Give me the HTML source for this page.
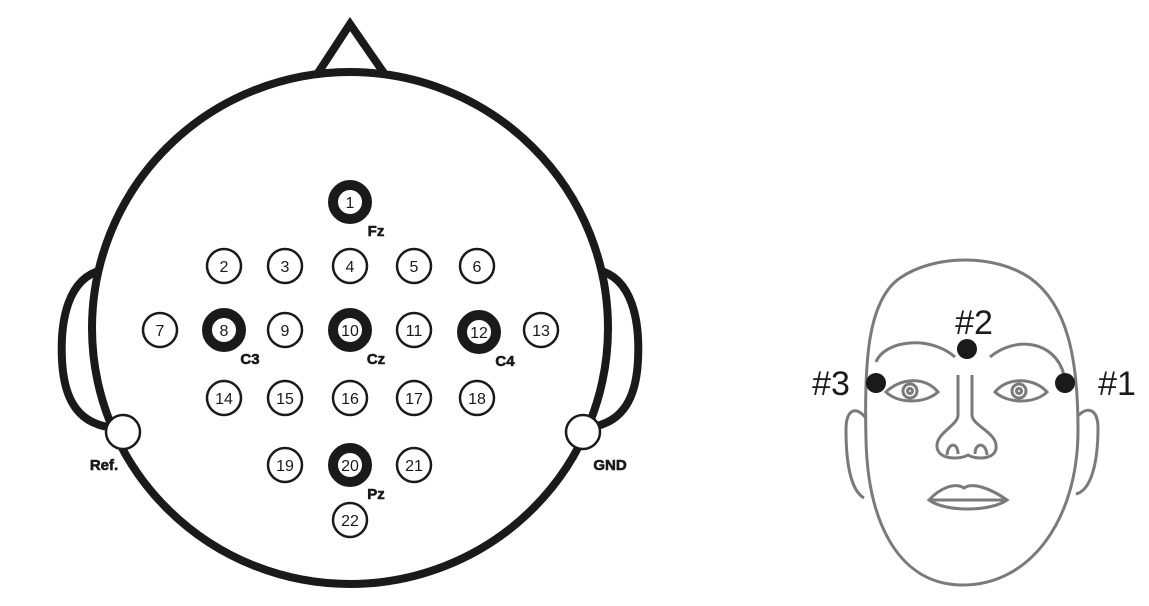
<!DOCTYPE html>
<html><head><meta charset="utf-8"><style>
html,body{margin:0;padding:0;background:#fff;}
svg{display:block;font-family:"Liberation Sans",sans-serif;}
</style></head><body>
<svg id="c" width="1149" height="606" viewBox="0 0 1149 606">
  <g fill="none" stroke="#1a1a1a" stroke-width="8">
    <path d="M316,76 L350,24 L386,76" stroke-linejoin="miter"/>
    <path d="M102,270 C68,278 60,320 62,360 C64,402 80,426 117,428"/>
    <path d="M598,270 C632,278 640,320 638,360 C636,402 620,426 583,428"/>
    <ellipse cx="350" cy="328" rx="258" ry="256" fill="#fff"/>
  </g>
  <g id="elec"></g>
  <g>
    <circle cx="123" cy="432" r="17" fill="#fff" stroke="#1a1a1a" stroke-width="2.5"/>
    <circle cx="583" cy="432" r="17" fill="#fff" stroke="#1a1a1a" stroke-width="2.5"/>
    <text x="104" y="470" font-size="15" font-weight="bold" text-anchor="middle" fill="#1a1a1a" stroke="#1a1a1a" stroke-width="0.6">Ref.</text>
    <text x="610" y="470" font-size="15" font-weight="bold" text-anchor="middle" fill="#1a1a1a" stroke="#1a1a1a" stroke-width="0.6">GND</text>
  </g>
  <g fill="none" stroke="#7a7a7a" stroke-width="3">
    <path d="M866,418 C855,405 846,410 846,430 C846,460 850,490 864,498"/>
    <path d="M1076,418 C1088,404 1098,410 1098,428 C1098,460 1092,490 1076,494"/>
    <path fill="#fff" d="M963,585 C900,585 868,525 866,440 C864,360 868,300 900,278 C935,254 995,254 1030,278 C1068,305 1078,360 1078,430 C1078,520 1030,585 963,585Z"/>
    <path d="M876,362 C885,340 930,335 955,357"/>
    <path d="M990,357 C1015,336 1055,340 1064,375"/>
    <path d="M886,392 C900,378 925,376 938,392 C925,404 898,404 886,392Z"/>
    <circle cx="910" cy="391" r="7"/>
    <circle cx="910" cy="391" r="2.5"/>
    <path d="M995,392 C1008,376 1035,378 1047,392 C1035,404 1008,404 995,392Z"/>
    <circle cx="1019" cy="391" r="7"/>
    <circle cx="1019" cy="391" r="2.5"/>
    <path d="M958,375 L958,415 C958,425 938,432 937,445 C936,460 960,460 968,455 C976,460 998,460 996,445 C995,432 972,425 972,415 L972,375"/>
    <path d="M947,455 C948,442 958,442 958,454 M975,454 C975,442 986,442 987,455"/>
    <path d="M929,500 C940,488 955,482 964,488 C972,482 990,488 1007,500 C990,512 945,512 929,500Z M931,500 L1005,500"/>
  </g>
  <g fill="#1a1a1a">
    <circle cx="967" cy="349" r="10"/>
    <circle cx="876" cy="383" r="10"/>
    <circle cx="1065" cy="383" r="10"/>
    <text x="974" y="334" font-size="34" text-anchor="middle">#2</text>
    <text x="831" y="395" font-size="34" text-anchor="middle">#3</text>
    <text x="1117" y="395" font-size="34" text-anchor="middle">#1</text>
  </g>
</svg>
<script>
const ids = ["1","2","3","4","5","6","7","8","9","10","11","12","13","14","15","16","17","18","19","20","21","22"];
const xs = [350,224,285,350,414,477,160,224,285,350,414,479,541,224,285,350,414,477,285,350,414,350];
const ys = [202,266,266,266,266,266,330,330,330,330,330,332,330,398,398,398,398,398,465,465,465,520];
const major = {"1":"Fz","8":"C3","10":"Cz","12":"C4","20":"Pz"};
const ns="http://www.w3.org/2000/svg";
const g=document.getElementById('elec');
ids.forEach((id,i)=>{
  const m=major[id];
  const c=document.createElementNS(ns,'circle');
  
  
  c.setAttribute('cx',xs[i]);c.setAttribute('cy',ys[i]);
  c.setAttribute('r',17);
  c.setAttribute('fill','#fff');c.setAttribute('stroke','#1a1a1a');
  c.setAttribute('stroke-width',m?10:2.5);
  g.appendChild(c);
  const t=document.createElementNS(ns,'text');
  
  
  t.setAttribute('x',xs[i]);t.setAttribute('y',ys[i]+6);
  t.setAttribute('font-size','16');t.setAttribute('text-anchor','middle');
  t.setAttribute('fill','#1a1a1a');
  t.textContent=id;g.appendChild(t);
  if(m){
    const l=document.createElementNS(ns,'text');
    
    
    l.setAttribute('x',xs[i]+26);l.setAttribute('y',ys[i]+34);
    l.setAttribute('font-size','15');l.setAttribute('font-weight','bold');
    l.setAttribute('stroke','#1a1a1a');l.setAttribute('stroke-width','0.6');
    l.setAttribute('text-anchor','middle');l.setAttribute('fill','#1a1a1a');
    l.textContent=m;g.appendChild(l);
  }
});
</script>
</body></html>
